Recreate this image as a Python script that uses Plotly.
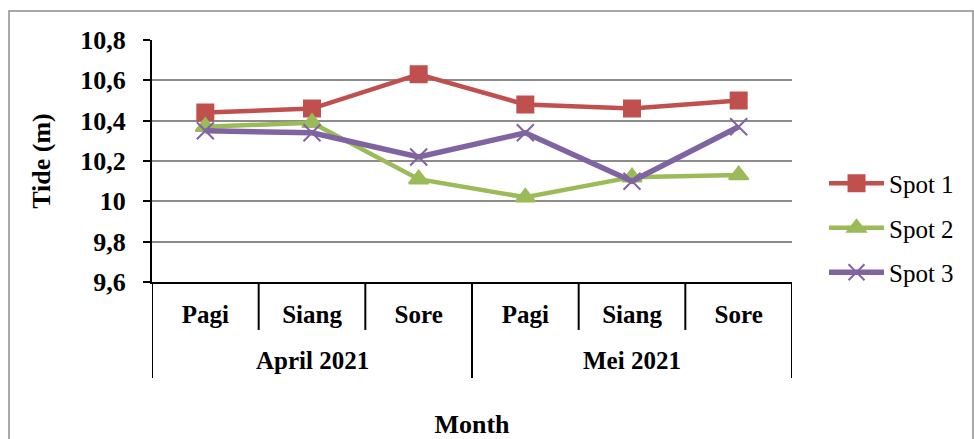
import plotly.graph_objects as go

months = ["April 2021", "Mei 2021"]
times = ["Pagi", "Siang", "Sore", "Pagi", "Siang", "Sore"]
spot1 = [10.44, 10.46, 10.63, 10.48, 10.46, 10.50]
spot2 = [10.37, 10.39, 10.11, 10.02, 10.12, 10.13]
spot3 = [10.35, 10.34, 10.22, 10.34, 10.10, 10.37]
y_ticks = [9.6, 9.8, 10.0, 10.2, 10.4, 10.6, 10.8]

x_pos = list(range(len(times)))
per_month = len(times) // len(months)

series = [
    ("Spot 1", spot1, "#C0504D", "square", 16, 4.5),
    ("Spot 2", spot2, "#9BBB59", "triangle-up", 17, 4.5),
    ("Spot 3", spot3, "#8064A2", "x-thin-open", 17, 5.5),
]

serif = "Liberation Serif"

fig = go.Figure()
for name, vals, color, sym, size, lw in series:
    fig.add_trace(go.Scatter(
        x=x_pos, y=vals, name=name, mode="lines+markers", legendgroup=name,
        line=dict(color=color, width=lw),
        marker=dict(symbol=sym, size=size, color=color,
                    line=dict(color=color, width=2)),
    ))

# Two-level category axis: short dividers between times of day,
# long dividers between months, month names on the second row.
shapes = []
for i in range(len(times) + 1):
    xb = i - 0.5
    outer = i % per_month == 0
    shapes.append(dict(type="line", xref="x", yref="paper",
                       x0=xb, x1=xb, y0=0, y1=-0.397 if outer else -0.198,
                       line=dict(color="black", width=2)))
shapes.append(dict(type="rect", xref="paper", yref="paper",
                   x0=-0.2234, x1=1.2828, y0=-0.75, y1=1.12,
                   line=dict(color="#8c8c8c", width=1.5), layer="below"))

annotations = []
for k, m in enumerate(months):
    annotations.append(dict(
        x=k * per_month + (per_month - 1) / 2, xref="x",
        y=-0.326, yref="paper", text=f"<b>{m}</b>", showarrow=False,
        xanchor="center", yanchor="middle",
        font=dict(size=25, family=serif, color="black")))

fig.update_layout(
    width=974, height=439,
    margin=dict(l=152, r=182, t=40, b=157, autoexpand=False),
    paper_bgcolor="white", plot_bgcolor="white",
    separators=",.",
    font=dict(family=serif, color="black"),
    showlegend=True,
    legend=dict(x=1.05, y=0.223, xanchor="left", yanchor="middle",
                font=dict(size=25, family=serif, color="black"),
                itemwidth=55,
                tracegroupgap=9, bgcolor="rgba(0,0,0,0)"),
    shapes=shapes,
    annotations=annotations,
)
fig.update_yaxes(
    range=[9.6, 10.8], tickvals=y_ticks, automargin=False,
    showgrid=True, gridcolor="#8c8c8c", gridwidth=2,
    showline=True, linecolor="black", linewidth=2,
    ticks="outside", ticklen=7, tickcolor="black", tickwidth=2,
    ticklabelstandoff=12,
    tickfont=dict(size=26, family=serif, weight="bold"),
    title=dict(text="<b>Tide (m)</b>", font=dict(size=26, family=serif), standoff=22),
    zeroline=False,
)
fig.update_xaxes(
    range=[-0.5, len(times) - 0.5], tickvals=x_pos, ticktext=times,
    automargin=False,
    showline=True, linecolor="black", linewidth=2,
    ticks="", showgrid=False, zeroline=False,
    ticklabelstandoff=9,
    tickfont=dict(size=25, family=serif, weight="bold"),
    title=dict(text="<b>Month</b>", font=dict(size=26, family=serif), standoff=92),
)

fig.write_html("out.html")
